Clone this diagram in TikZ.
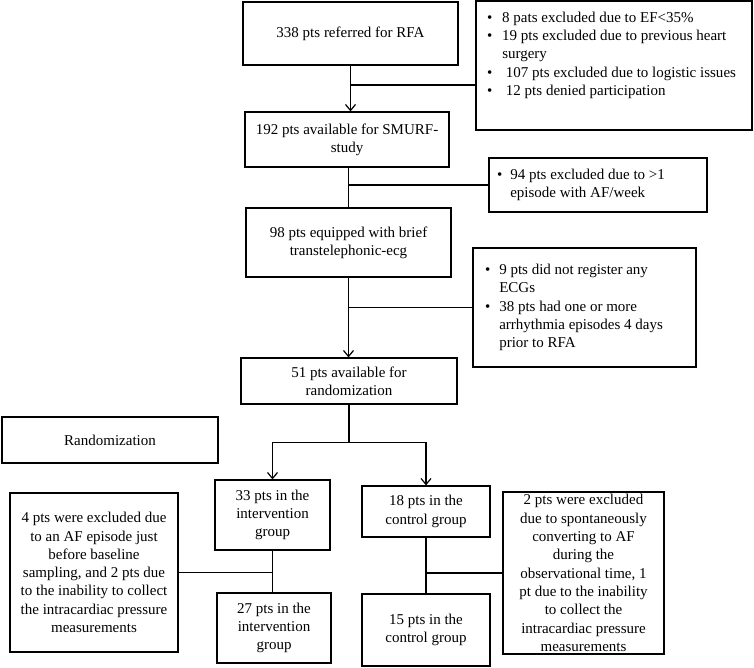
\documentclass[tikz,border=0pt]{standalone}
\usepackage{fontspec}
\setmainfont{Liberation Serif}
\usetikzlibrary{arrows.meta}

\begin{document}
\begin{tikzpicture}[x=1pt, y=-1pt, line width=1.2pt,
    >={Straight Barb[length=6pt,width=10pt]},
    font=\fontsize{15}{18.3}\selectfont,
    stage/.style={draw, align=center, inner sep=2pt},
    note/.style={draw, inner sep=0pt}]
    \useasboundingbox (0,0) rectangle (754,668);
    \node[stage, minimum width=215pt, minimum height=63pt] (referred) at (350.5,33.5) {338 pts referred for RFA};
    \node[note, minimum width=276pt, minimum height=129pt] (excl1) at (614,65.5) {\begin{minipage}[t][112pt][t]{254pt}
      \begin{tabular}{@{}l@{\hspace{10pt}}l@{}}
        \textbullet & 8 pats excluded due to EF<35\%\\
        \textbullet & 19 pts excluded due to previous heart\\
                    & surgery\\
        \textbullet & \ 107 pts excluded due to logistic issues\\
        \textbullet & \ 12 pts denied participation
      \end{tabular}\end{minipage}};
    \node[stage, minimum width=204pt, minimum height=55pt] (smurf) at (347,139.5) {192 pts available for SMURF-\\study};
    \node[note, minimum width=218pt, minimum height=54pt] (excl2) at (598,185) {\begin{minipage}{202pt}
      \begin{tabular}{@{}l@{\hspace{8pt}}l@{}}
        \textbullet & 94 pts excluded due to >1\\
                    & episode with AF/week
      \end{tabular}\end{minipage}};
    \node[stage, minimum width=205pt, minimum height=69pt] (ecg) at (348.5,242.5) {98 pts equipped with brief\\transtelephonic-ecg};
    \node[note, minimum width=223pt, minimum height=119pt] (excl3) at (584.5,307.5) {\begin{minipage}{199pt}
      \begin{tabular}{@{}l@{\hspace{9pt}}l@{}}
        \textbullet & 9 pts did not register any\\
                    & ECGs\\
        \textbullet & 38 pts had one or more\\
                    & arrhythmia episodes 4 days\\
                    & prior to RFA
      \end{tabular}\end{minipage}};
    \node[stage, minimum width=216pt, minimum height=46pt] (random) at (349,381) {51 pts available for\\randomization};
    \node[stage, minimum width=216pt, minimum height=46pt] (randlabel) at (110,440) {Randomization};
    % two arms
    \node[stage, minimum width=115pt, minimum height=70pt] (interv) at (272.5,515) {33 pts in the\\intervention\\group};
    \node[stage, minimum width=128pt, minimum height=51pt] (control) at (426,511.5) {18 pts in the\\control group};
    \node[stage, minimum width=168pt, minimum height=159pt] (exclinterv) at (94,572.5) {4 pts were excluded due\\to an AF episode just\\before baseline\\sampling, and 2 pts due\\to the inability to collect\\the intracardiac pressure\\measurements};
    \node[stage, minimum width=161pt, minimum height=162pt, inner sep=1pt] (exclcontrol) at (583.5,573) {2 pts were excluded\\due to spontaneously\\converting to AF\\during the\\observational time, 1\\pt due to the inability\\to collect the\\intracardiac pressure\\measurements};
    \node[stage, minimum width=114pt, minimum height=70pt] (interv2) at (274,628) {27 pts in the\\intervention\\group};
    \node[stage, minimum width=128pt, minimum height=72pt] (control2) at (426,630) {15 pts in the\\control group};

    \coordinate (branch1) at ([yshift=-19.5pt]excl1.west);
    \coordinate (split) at ([yshift=-38pt]random.south);
    \draw[->] (referred.south) -- (referred.south |- smurf.north);
    \draw (branch1) -- (branch1 -| referred.south);
    \draw (ecg.north |- smurf.south) -- (ecg.north);
    \draw (excl2.west) -- (excl2.west -| ecg.north);
    \draw[->] (ecg.south) -- (ecg.south |- random.north);
    \draw (excl3.west) -- (excl3.west -| ecg.south);
    \draw (random.south) -- (split);
    \draw[->] (split) -| (interv.north);
    \draw[->] (split) -| (control.north);
    \draw (interv.south) -- (interv.south |- interv2.north);
    \draw (exclinterv.east) -- (exclinterv.east -| interv.south);
    \draw (control.south) -- (control.south |- control2.north);
    \draw (exclcontrol.west) -- (exclcontrol.west -| control.south);
    %\draw [gray] (randlabel.east) -- (split);
\end{tikzpicture}
\end{document}
